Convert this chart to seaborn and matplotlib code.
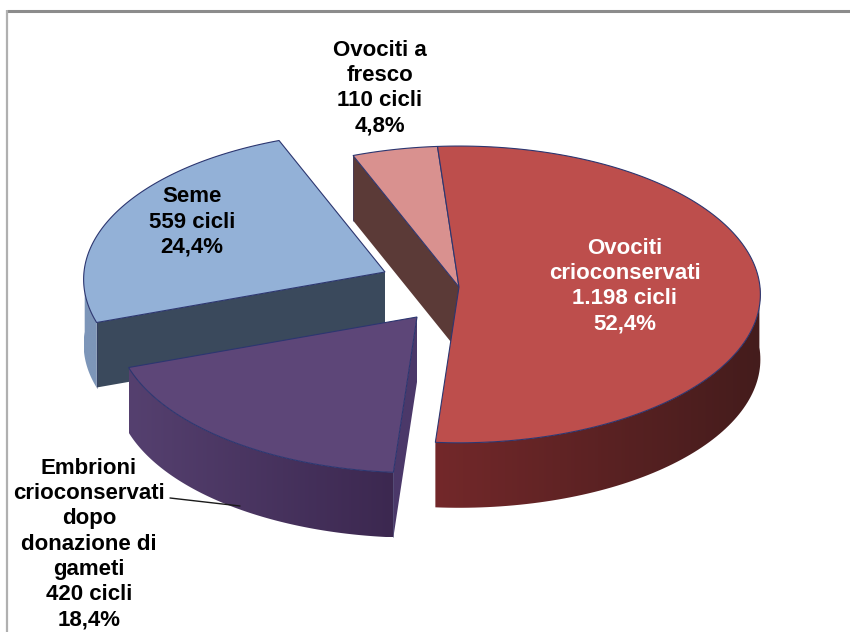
import numpy as np
import matplotlib
matplotlib.use('Agg')
import matplotlib.pyplot as plt
from matplotlib.colors import LinearSegmentedColormap
from matplotlib.patches import Polygon
import seaborn as sns

# Data
categories = ['Ovociti\ncrioconservati', 'Embrioni\ncrioconservati\ndopo\ndonazione di\ngameti', 'Seme', 'Ovociti a\nfresco']
cycles = [1198, 420, 559, 110]
cycle_labels = ['1.198 cicli', '420 cicli', '559 cicli', '110 cicli']
percent_labels = ['52,4%', '18,4%', '24,4%', '4,8%']

# Colours for each slice
top_colors = ['#bd4e4c', '#5d4678', '#93b1d7', '#d9918f']
side_colors = ['#5a2523', '#4b3869', '#3a495c', '#5b3a37']
wall_left = ['#73282a', '#55406f', '#7d96b9', '#5b3a37']
wall_right = ['#441c1c', '#3c2850', '#7d96b9', '#5b3a37']
text_colors = ['white', 'black', 'black', 'black']

# Layout in pixels
apex = [(459, 287), (417, 317), (385, 272), (459, 287)]
label_pos = [(625, 286), (89, 544), (192, 222), (380, 88)]
rx, ry, persp, depth = 301, 148, 0.05, 65
start_angle = -4.3
edge = '#2c3670'

sns.set_theme(style='white')
plt.rcParams['font.family'] = ['Liberation Sans', 'DejaVu Sans']


def rim(center, deg):
    t = np.radians(deg)
    d = 1 + persp * np.cos(t)
    return center[0] + rx * np.sin(t) / d, center[1] - ry * np.cos(t) / d


def draw_slice(ax, i, a0, a1, z):
    c = apex[i]
    angles = np.linspace(a0, a1, 160)
    xs, ys = rim(c, angles)

    # straight wall on the start side, the first slice has it hidden
    if i > 0:
        x, y = xs[0], ys[0]
        ax.fill([c[0], x, x, c[0]], [c[1], y, y + depth, c[1] + depth],
                color=side_colors[i], lw=0, zorder=z)
        ax.plot([x, x], [y, y + depth], color=edge, lw=0.5, alpha=0.6, zorder=z + 0.1)

    # curved outer wall, shaded left to right
    front = (angles % 360 >= 88) & (angles % 360 <= 272)
    if front.sum() > 1:
        wx, wy = xs[front], ys[front]
        verts = np.c_[np.r_[wx, wx[::-1]], np.r_[wy, wy[::-1] + depth]]
        patch = Polygon(verts, closed=True, transform=ax.transData, fc='none', ec='none')
        ax.add_patch(patch)
        cmap = LinearSegmentedColormap.from_list('wall', [wall_left[i], wall_right[i]])
        img = ax.imshow(np.linspace(0, 1, 256).reshape(1, -1), cmap=cmap, aspect='auto',
                        extent=(wx.min(), wx.max(), wy.max() + depth, wy.min()),
                        zorder=z + 0.2, interpolation='bilinear')
        img.set_clip_path(patch)

    # top surface
    ax.fill(np.r_[c[0], xs], np.r_[c[1], ys], color=top_colors[i], ec=edge, lw=0.8, zorder=z + 0.3)


fig = plt.figure(figsize=(8.5, 6.32), dpi=100)
ax = fig.add_axes([0, 0, 1, 1])

# chart frame
ax.plot([7, 850], [10.5, 10.5], color='#8c8c8c', lw=2.2, solid_capstyle='butt')
ax.plot([7, 7], [10, 632], color='#b0b0b0', lw=1.6, solid_capstyle='butt')

sweeps = np.array(cycles) / sum(cycles) * 360
ends = start_angle + np.cumsum(sweeps)
starts = ends - sweeps

# back slices first
for z, i in enumerate([3, 2, 1, 0]):
    draw_slice(ax, i, starts[i], ends[i], z + 3)

# leader line of the embryo label
ax.plot([170, 240], [498, 506], color='#1a1a1a', lw=1, zorder=9)

for i, name in enumerate(categories):
    ax.text(label_pos[i][0], label_pos[i][1],
            name + '\n' + cycle_labels[i] + '\n' + percent_labels[i],
            ha='center', va='center', ma='center', fontsize=16, fontweight='bold',
            color=text_colors[i], linespacing=1.27, zorder=10)

ax.set_xlim(0, 850)
ax.set_ylim(632, 0)
ax.axis('off')

fig.savefig('out.png', dpi=100)
